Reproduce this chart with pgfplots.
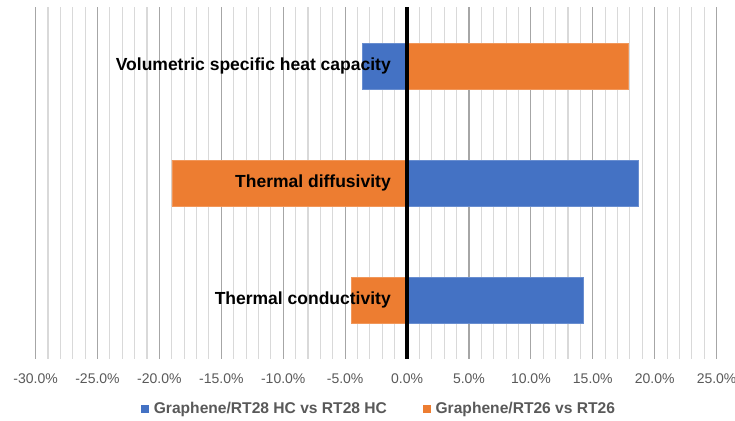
\documentclass[border=0pt]{standalone}
\usepackage{pgfplots}
\pgfplotsset{compat=1.18}
\usepackage{fontspec}
\setmainfont{Liberation Sans}

\definecolor{barblue}{HTML}{4472C4}
\definecolor{barorange}{HTML}{ED7D31}
\definecolor{majgrid}{HTML}{A6A6A6}
\definecolor{mingrid}{HTML}{D9D9D9}
\definecolor{labgray}{HTML}{595959}

\begin{document}
\begin{tikzpicture}
\useasboundingbox (0,0) rectangle (735bp,421bp);
\begin{axis}[
    at={(35.6bp,62.5bp)}, anchor=south west,
    scale only axis,
    width=681bp, height=351bp,
    xmin=-30, xmax=25,
    ymin=0.5, ymax=3.5,
    xbar, bar width=0.39, bar shift=0pt,
    axis line style={draw=none},
    major tick length=0pt, minor tick length=0pt,
    xtick={-30,-25,...,25},
    xticklabels={-30.0\%,-25.0\%,-20.0\%,-15.0\%,-10.0\%,-5.0\%,0.0\%,5.0\%,10.0\%,15.0\%,20.0\%,25.0\%},
    minor x tick num=4,
    ytick=\empty,
    xmajorgrids, xminorgrids,
    major grid style={majgrid, line width=1.1bp},
    minor grid style={mingrid, line width=1.1bp},
    xticklabel style={font=\fontsize{14bp}{16bp}\selectfont, text=labgray, anchor=base, inner sep=0pt, yshift=-25bp},
    legend columns=2,
    legend style={at={(0.503,-0.144)}, anchor=center, draw=none, fill=none,
        font=\bfseries\fontsize{15.6bp}{18bp}\selectfont, text=labgray,
        nodes={inner sep=0pt},
        /tikz/every odd column/.append style={column sep=5bp},
        /tikz/every even column/.append style={column sep=36bp}},
]
\addplot[fill=barblue, draw=barblue!80!white, line width=0.6bp,
    legend image code/.code={\fill[barblue] (0bp,-3.5bp) rectangle (7bp,3.5bp);}]
    coordinates {(14.2,1) (18.7,2) (-3.6,3)};
\addlegendentry{Graphene/RT28 HC vs RT28 HC}
\addplot[fill=barorange, draw=barorange!80!white, line width=0.6bp,
    legend image code/.code={\fill[barorange] (0bp,-3.5bp) rectangle (7bp,3.5bp);}]
    coordinates {(-4.5,1) (-19.0,2) (17.9,3)};
\addlegendentry{Graphene/RT26 vs RT26}
\draw[black, line width=3.6bp] (axis cs:0,0.5) -- (axis cs:0,3.5);
\node[anchor=east, inner sep=0pt, font=\bfseries\fontsize{17.5bp}{20bp}\selectfont] at (axis cs:-1.3,3) {Volumetric specific heat capacity};
\node[anchor=east, inner sep=0pt, font=\bfseries\fontsize{17.5bp}{20bp}\selectfont] at (axis cs:-1.3,2) {Thermal diffusivity};
\node[anchor=east, inner sep=0pt, font=\bfseries\fontsize{17.5bp}{20bp}\selectfont] at (axis cs:-1.3,1) {Thermal conductivity};
\end{axis}
\end{tikzpicture}
\end{document}
